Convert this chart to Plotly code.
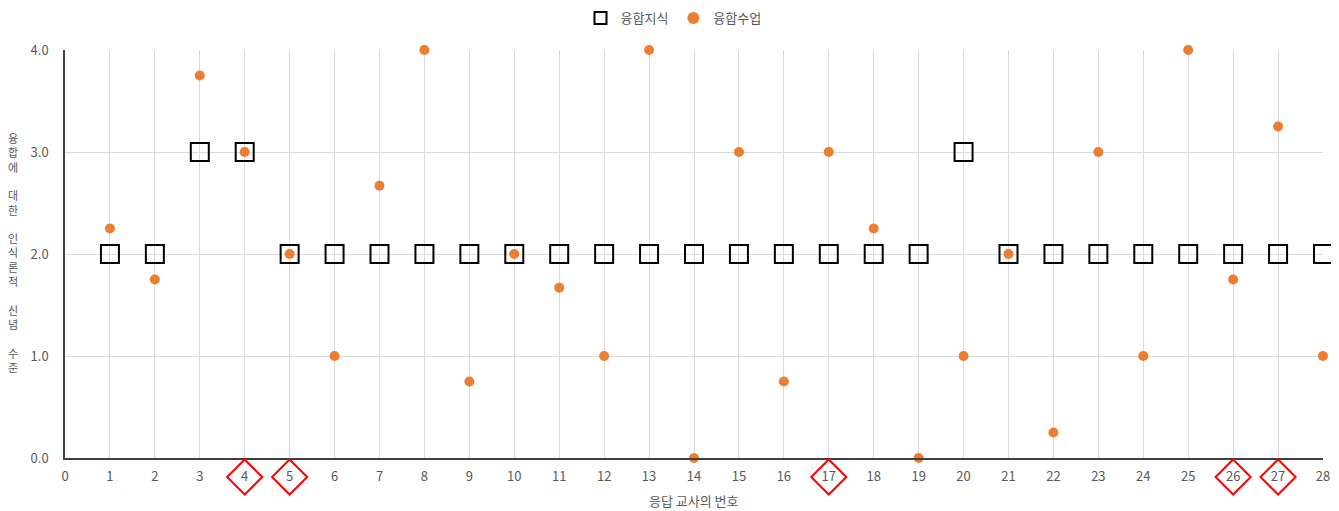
import plotly.graph_objects as go

teachers = list(range(1, 29))
knowledge = [2, 2, 3, 3, 2, 2, 2, 2, 2, 2, 2, 2, 2, 2, 2, 2, 2, 2, 2, 3, 2, 2, 2, 2, 2, 2, 2, 2]
lesson = [2.25, 1.75, 3.75, 3.0, 2.0, 1.0, 2.67, 4.0, 0.75, 2.0, 1.67, 1.0, 4.0, 0.0,
          3.0, 0.75, 3.0, 2.25, 0.0, 1.0, 2.0, 0.25, 3.0, 1.0, 4.0, 1.75, 3.25, 1.0]
highlighted = [4, 5, 17, 26, 27]
x_ticks = list(range(0, 29))
y_ticks = [0, 1, 2, 3, 4]
y_title = "융합에 대한 인식론적 신념 수준"
x_title = "응답 교사의 번호"

FONT = "Noto Sans CJK KR"
GRAY = "#595959"
OFF = 8                       # page body margin in the browser
W, H = 1339 - OFF, 511 - OFF
M_L, M_R, M_T, M_B = 65 - OFF, 16, 50 - OFF, 0
plot_w = W - M_L - M_R
plot_h = H - M_T - M_B


def py(ref_px):
    """reference pixel row -> paper y fraction"""
    return (H - M_B - (ref_px - OFF)) / plot_h


axis_px = 458                 # row of x axis line in reference
label_px = 477                # row of tick label centres in reference
d = py(axis_px)
pos_label = py(label_px) / d

fig = go.Figure()
fig.add_trace(go.Scatter(
    x=teachers, y=knowledge, mode="markers", name="융합지식",
    marker=dict(symbol="square-open", size=18, color="black", line=dict(width=2, color="black")),
    cliponaxis=False,
))
fig.add_trace(go.Scatter(
    x=teachers, y=lesson, mode="markers", name="융합수업",
    marker=dict(symbol="circle", size=10, color="#ED7D31"),
    cliponaxis=False,
))
fig.add_trace(go.Scatter(
    x=highlighted, y=[0] * len(highlighted), mode="markers", showlegend=False,
    xaxis="x2", yaxis="y2",
    marker=dict(symbol="diamond-open", size=27, color="#FF0000", line=dict(width=2, color="#FF0000")),
    cliponaxis=False, hoverinfo="skip",
))

vertical_title = "<br>".join(ch if ch != " " else "&nbsp;" for ch in y_title)
n_lines = len(y_title)
line_h = 11 * 1.3
annotations = [
    dict(text=vertical_title, xref="paper", yref="paper",
         x=-(M_L - (13 - OFF)) / plot_w, y=py(138 + (n_lines - 1) * line_h / 2),
         xanchor="center", yanchor="middle", showarrow=False,
         font=dict(size=11, color=GRAY, family=FONT)),
    dict(text=x_title, xref="paper", yref="paper", x=0.5, y=py(500),
         xanchor="center", yanchor="middle", showarrow=False,
         font=dict(size=13, color=GRAY, family=FONT)),
]

fig.update_layout(
    width=W, height=H,
    margin=dict(l=M_L, r=M_R, t=M_T, b=M_B, autoexpand=False),
    plot_bgcolor="white", paper_bgcolor="white",
    font=dict(family=FONT, size=13, color=GRAY),
    showlegend=True,
    legend=dict(orientation="h", x=0.5, xref="container", xanchor="center",
                y=1 - (18 - OFF) / H, yanchor="middle", yref="container",
                font=dict(size=13, color=GRAY),
                itemsizing="constant", itemwidth=30, bgcolor="rgba(0,0,0,0)"),
    xaxis=dict(
        range=[0, 28], tickvals=x_ticks, ticktext=[str(v) for v in x_ticks],
        showgrid=True, gridcolor="#D9D9D9", gridwidth=1,
        showline=True, linecolor="#404040", linewidth=1.5,
        zeroline=False, ticks="", ticklabelstandoff=6, automargin=False,
        tickfont=dict(size=13, color=GRAY),
    ),
    yaxis=dict(
        domain=[d, 1],
        range=[0, 4], tickvals=y_ticks, tickformat=".1f",
        showgrid=True, gridcolor="#D9D9D9", gridwidth=1,
        showline=True, linecolor="#404040", linewidth=1.5,
        zeroline=False, ticks="", ticklabelstandoff=12, automargin=False,
        tickfont=dict(size=13, color=GRAY),
    ),
    xaxis2=dict(range=[0, 28], anchor="y2", visible=False, showgrid=False, zeroline=False),
    yaxis2=dict(domain=[0, d], range=[-pos_label, 1 - pos_label], anchor="x2",
                visible=False, showgrid=False, zeroline=False),
    annotations=annotations,
)

fig.write_html("out.html")
